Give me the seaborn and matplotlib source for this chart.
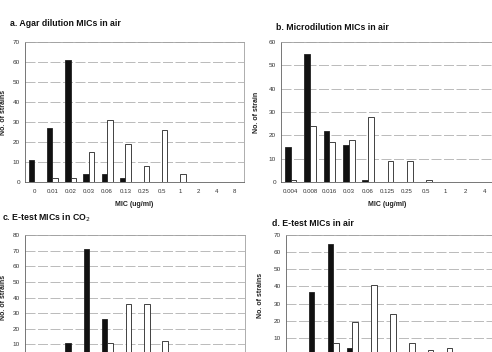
import pandas as pd
import matplotlib.pyplot as plt
import seaborn as sns

sns.set_style("white")
plt.rcParams['font.family'] = ['Liberation Sans', 'DejaVu Sans']

# a. Agar dilution MICs in air
mic_a = ['0', '0.01', '0.02', '0.03', '0.06', '0.13', '0.25', '0.5', '1', '2', '4', '8']
black_a = [11, 27, 61, 4, 4, 2, 0, 0, 0, 0, 0, 0]
white_a = [0, 2, 2, 15, 31, 19, 8, 26, 4, 0, 0, 0]

# b. Microdilution MICs in air
mic_b = ['0.004', '0.008', '0.016', '0.03', '0.06', '0.125', '0.25', '0.5', '1', '2', '4']
black_b = [15, 55, 22, 16, 1, 0, 0, 0, 0, 0, 0]
white_b = [1, 24, 17, 18, 28, 9, 9, 1, 0, 0, 0]

# c. E-test MICs in CO2
mic_c = ['0.002', '0.004', '0.008', '0.016', '0.03', '0.06', '0.125', '0.25', '0.5', '1', '2', '4']
black_c = [0, 0, 11, 71, 26, 0, 0, 0, 0, 0, 0, 0]
white_c = [0, 0, 0, 0, 11, 36, 36, 12, 0, 0, 0, 0]

# d. E-test MICs in air
mic_d = ['0.004', '0.008', '0.016', '0.03', '0.06', '0.125', '0.25', '0.5', '1', '2', '4']
black_d = [0, 37, 65, 4, 0, 0, 0, 0, 0, 0, 0]
white_d = [1, 1, 7, 19, 41, 24, 7, 3, 4, 0, 0]

W, H = 492, 352
fig = plt.figure(figsize=(W / 100, H / 100), dpi=100)


def panel(box, mics, black, white, ymax, ylabel, title, title_xy, ylab_x, show_x=True):
    left, right, top, bottom = box
    ax = fig.add_axes([left / W, 1 - bottom / H, (right - left) / W, (bottom - top) / H])
    df = pd.DataFrame({'mic': mics * 2,
                       'n': black + white,
                       'set': ['black'] * len(mics) + ['white'] * len(mics)})
    sns.barplot(data=df, x='mic', y='n', hue='set', order=mics,
                palette={'black': '#111111', 'white': 'white'},
                width=0.6, edgecolor='#222222', linewidth=0.6,
                legend=False, ax=ax)
    ax.set_ylim(0, ymax)
    ax.set_yticks(range(0, ymax + 1, 10))
    ax.set_xlim(-0.5, len(mics) - 0.5)
    ax.yaxis.grid(True, color='#b0b0b0', linewidth=0.6, linestyle=(0, (12, 3)))
    ax.set_axisbelow(True)
    for s in ax.spines.values():
        s.set_color('#a0a0a0')
        s.set_linewidth(0.6)
    ax.spines['left'].set_color('#606060')
    ax.spines['bottom'].set_color('#606060')
    ax.tick_params(axis='y', labelsize=4.6, length=2, width=0.5, pad=1.5, colors='#333333')
    ax.tick_params(axis='x', labelsize=4.4, length=0, pad=5, colors='#333333')
    if show_x:
        ax.set_xlabel('MIC (ug/ml)', fontsize=5, fontweight='bold', labelpad=5, color='#222222')
    else:
        # the lower panels are cut off by the page edge below the bars
        ax.set_xticklabels([])
        ax.set_xlabel('')
    ax.set_ylabel(ylabel, fontsize=5, fontweight='bold', color='#222222')
    ax.yaxis.set_label_coords((ylab_x - left) / (right - left), 0.5)
    fig.text(title_xy[0] / W, 1 - title_xy[1] / H, title, fontsize=6.3,
             fontweight='bold', va='center', ha='left', color='#111111')
    return ax


panel((25, 244, 42, 182), mic_a, black_a, white_a, 70, 'No. of strains',
      'a. Agar dilution MICs in air', (10, 24), 7)
panel((281, 494, 42, 182), mic_b, black_b, white_b, 60, 'No. of strain',
      'b. Microdilution MICs in air', (276, 28), 260)
panel((25, 245, 235, 360), mic_c, black_c, white_c, 80, 'No. of strains',
      'c. E-test MICs in CO$_2$', (2, 218), 7, show_x=False)
panel((286, 494, 235, 355), mic_d, black_d, white_d, 70, 'No. of strains',
      'd. E-test MICs in air', (272, 223), 264, show_x=False)

fig.savefig('out.png', dpi=100)
